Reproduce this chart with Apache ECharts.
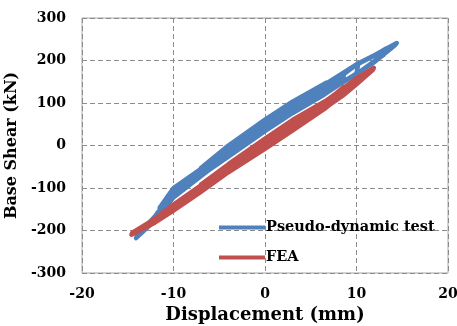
<!DOCTYPE html>
<html>
<head>
<meta charset="utf-8">
<script src="https://cdn.jsdelivr.net/npm/echarts@6/dist/echarts.min.js"></script>
<style>
  html, body { margin: 0; padding: 0; background: #fff; }
  #chart { width: 457px; height: 326px; }
</style>
</head>
<body>
<div id="chart"></div>
<script>
// displacement (mm) / base shear (kN) pairs, in loading order
const testCurve = [
  [-4, -14], [0, 46], [3, 88], [6.5, 130], [6.7, 148], [3, 103], [0, 61], [-4, 0], [-7, -53], [-7.2, -74],
  [-4, -26], [0, 34], [3, 76], [6.5, 120], [10, 170], [10.2, 193], [6.5, 137], [3, 96], [0, 54], [-4, -8],
  [-7, -60], [-10, -105], [-12, -166], [-14, -213], [-14.1, -218],
  [-12, -176], [-10, -122], [-7, -72], [-4, -22], [0, 38], [3, 80], [6.5, 124], [10, 169], [12, 197],
  [14.2, 236], [14.4, 241], [12, 213], [10, 191], [6.5, 143], [3, 100], [0, 58], [-4, -3], [-7, -56],
  [-10, -102], [-10.2, -120],
  [-7, -68], [-4, -18], [0, 42], [3, 85], [6.5, 127], [8.5, 156], [8.7, 172], [6.5, 140], [3, 99], [0, 57],
  [-4, -5], [-5, -20],
  [-7, -55], [-10, -100], [-11.5, -146], [-11.6, -168],
  [-10, -118], [-7, -70], [-4, -20], [0, 40], [3, 82], [6.5, 122], [10, 168], [12, 199], [13, 214],
  [13.2, 228], [12, 212], [10, 190], [6.5, 134], [3, 92], [0, 50], [-4, -12], [-7, -64], [-10, -111],
  [-12, -170], [-14, -215]
];

const feaCurve = [
  [-4, -55], [0, 3], [3, 47], [6.5, 95], [6.7, 106], [3, 60], [0, 16], [-4, -44], [-7, -92], [-7.2, -108],
  [-4, -62], [0, -6], [3, 37], [6.5, 87], [8.5, 117], [10, 144], [11.8, 178], [11.9, 183], [10, 158],
  [8.5, 134], [6.5, 103], [3, 58], [0, 13], [-4, -46], [-7, -94], [-10, -139], [-12, -172], [-14.5, -205],
  [-14.6, -210],
  [-12, -181], [-10, -153], [-7, -109], [-4, -63], [0, -8], [3, 35], [6.5, 86], [8.5, 122], [8.6, 138],
  [6.5, 100], [3, 54], [0, 9], [-4, -50], [-7, -100], [-10, -145], [-10.2, -154],
  [-7, -104], [-4, -57], [0, 1], [3, 45], [6.5, 93], [10, 150], [10.2, 160], [8.5, 133], [6.5, 102],
  [3, 57], [0, 12], [-4, -48], [-7, -96], [-10, -141], [-12, -176], [-13, -190]
];

const seriesNames = ['Pseudo-dynamic test', 'FEA'];
const xRange = [-20, 20, 10];
const yRange = [-300, 300, 100];

const font = 'DejaVu Serif';
const chart = echarts.init(document.getElementById('chart'));

const gridLine = {
  show: true,
  lineStyle: { color: '#8c8c8c', type: [5, 3], width: 1 }
};

chart.setOption({
  animation: false,
  grid: {
    left: 82, right: 9, top: 18, bottom: 53,
    show: true, borderColor: '#a6a6a6', borderWidth: 1,
    outerBoundsMode: 'none'
  },
  legend: {
    data: seriesNames,
    orient: 'vertical',
    left: 214,
    top: 215,
    itemWidth: 46,
    itemHeight: 4,
    itemGap: 15,
    icon: 'rect',
    textStyle: {
      fontFamily: font, fontWeight: 'bold', fontSize: 14.5, color: '#000',
      padding: [0, 0, 0, -4]
    }
  },
  xAxis: {
    type: 'value',
    min: xRange[0], max: xRange[1], interval: xRange[2],
    name: 'Displacement (mm)',
    nameLocation: 'middle',
    nameGap: 32,
    nameTextStyle: { fontFamily: font, fontWeight: 'bold', fontSize: 18, color: '#000' },
    axisLine: { show: false },
    axisTick: { show: false },
    axisLabel: { fontFamily: font, fontWeight: 'bold', fontSize: 14, color: '#000', margin: 14 },
    splitLine: gridLine
  },
  yAxis: {
    type: 'value',
    min: yRange[0], max: yRange[1], interval: yRange[2],
    name: 'Base Shear (kN)',
    nameLocation: 'middle',
    nameGap: 50,
    nameTextStyle: { fontFamily: font, fontWeight: 'bold', fontSize: 16, color: '#000' },
    axisLine: { show: false },
    axisTick: { show: false },
    axisLabel: { fontFamily: font, fontWeight: 'bold', fontSize: 14, color: '#000', margin: 16 },
    splitLine: gridLine
  },
  series: [
    {
      name: seriesNames[0],
      type: 'line',
      data: testCurve,
      showSymbol: false,
      color: '#4f81bd',
      lineStyle: { width: 4.5, color: '#4f81bd', cap: 'round', join: 'round' }
    },
    {
      name: seriesNames[1],
      type: 'line',
      data: feaCurve,
      showSymbol: false,
      color: '#c0504d',
      lineStyle: { width: 4.5, color: '#c0504d', cap: 'round', join: 'round' }
    }
  ]
});
</script>
</body>
</html>
